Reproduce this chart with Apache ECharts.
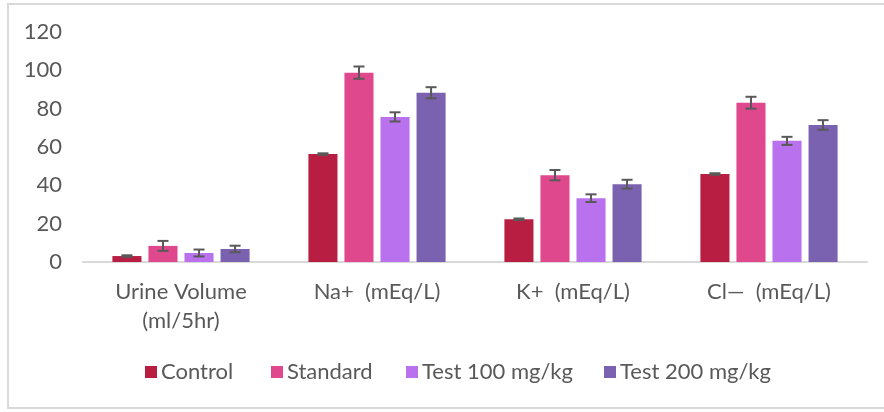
<!DOCTYPE html>
<html>
<head>
<meta charset="utf-8">
<script src="https://cdn.jsdelivr.net/npm/echarts@6/dist/echarts.min.js"></script>
<style>
  html, body { margin: 0; padding: 0; background: #fff; }
  #frame { position: absolute; left: 7px; top: 3px; width: 890px; height: 406px; border: 2px solid #d9d9d9; box-sizing: border-box; }
  #chart { position: absolute; left: 0; top: 0; width: 884px; height: 412px; }
</style>
</head>
<body>
<div id="frame"></div>
<div id="chart"></div>
<script>
// 数据
var categories = ['Urine Volume\n(ml/5hr)', 'Na+  (mEq/L)', 'K+  (mEq/L)', 'Cl—  (mEq/L)'];
var seriesNames = ['Control', 'Standard', 'Test 100 mg/kg', 'Test 200 mg/kg'];
var controlVals = [3.1, 56.3, 22.3, 45.9];
var standardVals = [8.4, 98.8, 45.3, 83.1];
var test100Vals = [4.7, 75.7, 33.3, 63.2];
var test200Vals = [6.8, 88.3, 40.6, 71.5];
var controlErr = [0.4, 0.4, 0.4, 0.4];
var standardErr = [2.6, 3.2, 2.7, 3.1];
var test100Err = [1.8, 2.4, 2.0, 2.1];
var test200Err = [1.7, 2.9, 2.3, 2.5];
var yTicks = [0, 20, 40, 60, 80, 100, 120];

var colors = ['#b71e42', '#df488d', '#b971ee', '#7b62b0'];
var legendLeft = [145, 271, 406, 604];
var allVals = [controlVals, standardVals, test100Vals, test200Vals];
var allErr = [controlErr, standardErr, test100Err, test200Err];
var catGap = 0.3, barGap = 0.24;
var fontFam = 'Lato, "DejaVu Sans Condensed", sans-serif';

var chart = echarts.init(document.getElementById('chart'));

var series = [];
allVals.forEach(function (vals, i) {
  series.push({
    name: seriesNames[i],
    type: 'bar',
    data: vals,
    barCategoryGap: catGap * 100 + '%',
    barGap: barGap * 100 + '%',
    itemStyle: { color: colors[i] },
    z: 2
  });
});
// 误差线
allVals.forEach(function (vals, i) {
  series.push({
    name: 'err' + i,
    type: 'custom',
    z: 5,
    silent: true,
    data: vals.map(function (v, k) { return [k, v, allErr[i][k]]; }),
    renderItem: function (params, api) {
      var k = api.value(0), v = api.value(1), e = api.value(2);
      var band = api.size([1, 0])[0];
      var bw = band * (1 - catGap) / (4 + 3 * barGap);
      var start = -band * (1 - catGap) / 2;
      var off = start + i * bw * (1 + barGap) + bw / 2;
      var top = api.coord([k, v + e]);
      var bot = api.coord([k, v - e]);
      var x = top[0] + off;
      var cap = 5.5;
      var style = { stroke: '#595959', lineWidth: 2 };
      return {
        type: 'group',
        children: [
          { type: 'line', shape: { x1: x, y1: top[1], x2: x, y2: bot[1] }, style: style },
          { type: 'line', shape: { x1: x - cap, y1: top[1], x2: x + cap, y2: top[1] }, style: style },
          { type: 'line', shape: { x1: x - cap, y1: bot[1], x2: x + cap, y2: bot[1] }, style: style }
        ]
      };
    }
  });
});

// 每个图例单独放置
var legends = seriesNames.map(function (name, i) {
  return {
    data: [name],
    left: legendLeft[i],
    top: 361,
    padding: 0,
    icon: 'rect',
    itemWidth: 12,
    itemHeight: 12,
    textStyle: { color: '#595959', fontSize: 22, fontFamily: fontFam, padding: [0, 0, 0, -1] }
  };
});

var option = {
  animation: false,
  textStyle: { fontFamily: fontFam },
  grid: { left: 83, right: 17, top: 32, bottom: 150 },
  legend: legends,
  xAxis: {
    type: 'category',
    data: categories,
    axisLine: { lineStyle: { color: '#d9d9d9', width: 2 } },
    axisTick: { show: false },
    axisLabel: { color: '#595959', fontSize: 22, fontFamily: fontFam, margin: 15, lineHeight: 29, interval: 0 }
  },
  yAxis: {
    type: 'value',
    min: yTicks[0],
    max: yTicks[yTicks.length - 1],
    interval: 20,
    splitLine: { show: false },
    axisLine: { show: false },
    axisTick: { show: false },
    axisLabel: { color: '#595959', fontSize: 22, fontFamily: fontFam, margin: 21 }
  },
  series: series
};
chart.setOption(option);
</script>
</body>
</html>
